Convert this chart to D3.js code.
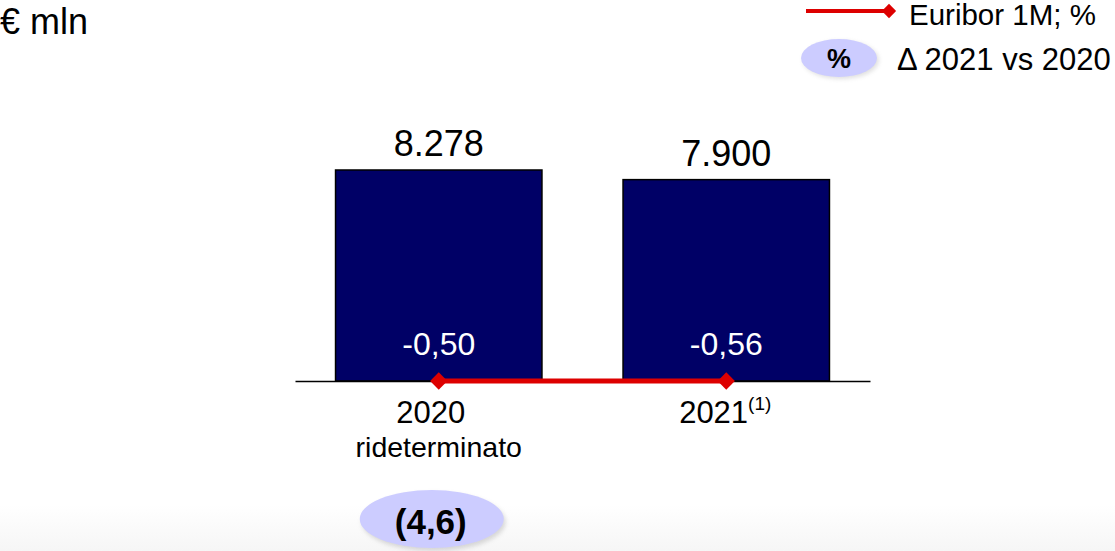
<!DOCTYPE html>
<html>
<head>
<meta charset="utf-8">
<script src="https://cdn.jsdelivr.net/npm/d3@7"></script>
<style>
  html, body { margin: 0; padding: 0; background: #fff; overflow: hidden; }
  svg { display: block; font-family: "Liberation Sans", Arial, sans-serif; }
</style>
</head>
<body>
<svg id="chart" width="1115" height="551"></svg>
<script>
// ---- data ----
const categories = ["2020", "2021"];
const categorySubLabels = ["rideterminato", ""];
const categoryFootnotes = ["", "(1)"];
const revenues = [8278, 7900];          // € mln
const euribor1M = [-0.50, -0.56];       // %
const deltaPct = -4.6;                  // Δ 2021 vs 2020, %
const unitLabel = "€ mln";
const legendLine = "Euribor 1M; %";
const legendBubble = "Δ 2021 vs 2020";

// ---- setup ----
const W = 1115, H = 551;
const svg = d3.select("#chart");
const it = d3.formatLocale({decimal: ",", thousands: ".", grouping: [3], currency: ["€", ""], minus: "-"});
const fmtInt = it.format(",d");
const fmtDec = it.format(".2f");
const fmtDelta = v => "(" + it.format(".1f")(Math.abs(v)) + ")";

const baseY = 381;
const x = d3.scaleBand().domain(categories).range([295, 870])
  .paddingInner(0.282).paddingOuter(0.141);
const y = d3.scaleLinear().domain([0, 10000]).range([baseY, baseY - 254.9]);

const defs = svg.append("defs");
const grad = defs.append("linearGradient").attr("id", "bottomFade")
  .attr("x1", 0).attr("y1", 0).attr("x2", 0).attr("y2", 1);
grad.append("stop").attr("offset", 0).attr("stop-color", "#ffffff");
grad.append("stop").attr("offset", 1).attr("stop-color", "#f6f6f6");
const blur = defs.append("filter").attr("id", "soft").attr("x", "-20%").attr("y", "-20%").attr("width", "140%").attr("height", "140%");
blur.append("feGaussianBlur").attr("stdDeviation", 2);

svg.append("rect").attr("x", 0).attr("y", 505).attr("width", W).attr("height", H - 505)
  .attr("fill", "url(#bottomFade)");

// unit label
svg.append("text").attr("x", 0).attr("y", 34).attr("font-size", 36).attr("fill", "#000")
  .text(unitLabel);

// bars
const rows = categories.map((c, i) => ({c, v: revenues[i], e: euribor1M[i], sub: categorySubLabels[i], fn: categoryFootnotes[i]}));

svg.selectAll("rect.bar").data(rows).join("rect").attr("class", "bar")
  .attr("x", d => x(d.c)).attr("width", x.bandwidth())
  .attr("y", d => y(d.v)).attr("height", d => y(0) - y(d.v))
  .attr("fill", "#000066").attr("stroke", "#000").attr("stroke-width", 1.5);

// value labels
svg.selectAll("text.val").data(rows).join("text").attr("class", "val")
  .attr("x", d => x(d.c) + x.bandwidth() / 2).attr("y", d => y(d.v) - 14)
  .attr("text-anchor", "middle").attr("font-size", 36).attr("fill", "#000")
  .text(d => fmtInt(d.v));

// euribor labels inside bars
svg.selectAll("text.eur").data(rows).join("text").attr("class", "eur")
  .attr("x", d => x(d.c) + x.bandwidth() / 2).attr("y", 355)
  .attr("text-anchor", "middle").attr("font-size", 32).attr("fill", "#fff")
  .text(d => fmtDec(d.e));

// axis line
const xAxis = d3.axisBottom(x).tickSize(0).tickFormat("");
const ax = svg.append("g").attr("transform", `translate(0,${baseY})`).call(xAxis);
ax.select(".domain").attr("stroke", "#000").attr("stroke-width", 1.5);

// euribor line (drawn at baseline)
const line = d3.line().x(d => x(d.c) + x.bandwidth() / 2).y(() => baseY);
svg.append("path").datum(rows).attr("d", line)
  .attr("fill", "none").attr("stroke", "#dd0000").attr("stroke-width", 5);
const diamond = d3.symbol().type(d3.symbolDiamond2).size(190);
svg.selectAll("path.pt").data(rows).join("path").attr("class", "pt")
  .attr("transform", d => `translate(${x(d.c) + x.bandwidth() / 2},${baseY})`)
  .attr("d", diamond).attr("fill", "#dd0000");

// category labels
const cl = svg.selectAll("text.cat").data(rows).join("text").attr("class", "cat")
  .attr("x", d => x(d.c) + x.bandwidth() / 2 + (d.fn ? -1 : -8)).attr("y", 423)
  .attr("text-anchor", "middle").attr("font-size", 31).attr("fill", "#000");
cl.append("tspan").text(d => d.c);
cl.append("tspan").attr("font-size", 19).attr("dy", -13).text(d => d.fn);
svg.selectAll("text.sub").data(rows.filter(d => d.sub)).join("text").attr("class", "sub")
  .attr("x", d => x(d.c) + x.bandwidth() / 2).attr("y", 457)
  .attr("text-anchor", "middle").attr("font-size", 28.5).attr("fill", "#000")
  .text(d => d.sub);

// delta bubble
const bx = x(categories[0]) + x.bandwidth() / 2 - 7, by = 519;
svg.append("ellipse").attr("cx", bx + 2).attr("cy", by + 3).attr("rx", 72).attr("ry", 29)
  .attr("fill", "#999").attr("opacity", 0.35).attr("filter", "url(#soft)");
svg.append("ellipse").attr("cx", bx).attr("cy", by).attr("rx", 72).attr("ry", 29)
  .attr("fill", "#ccccff");
svg.append("text").attr("x", bx - 1).attr("y", 534).attr("text-anchor", "middle")
  .attr("font-size", 35).attr("font-weight", "bold").attr("fill", "#000")
  .text(fmtDelta(deltaPct));

// legend
const lg = svg.append("g");
lg.append("line").attr("x1", 806).attr("x2", 889).attr("y1", 11).attr("y2", 11)
  .attr("stroke", "#dd0000").attr("stroke-width", 4);
lg.append("path").attr("transform", "translate(889,11)")
  .attr("d", d3.symbol().type(d3.symbolDiamond2).size(130)).attr("fill", "#dd0000");
lg.append("text").attr("x", 909).attr("y", 25).attr("font-size", 29.5).attr("fill", "#000").text(legendLine);
lg.append("ellipse").attr("cx", 841).attr("cy", 60).attr("rx", 38).attr("ry", 19)
  .attr("fill", "#999").attr("opacity", 0.3).attr("filter", "url(#soft)");
lg.append("ellipse").attr("cx", 839).attr("cy", 58).attr("rx", 38).attr("ry", 19)
  .attr("fill", "#ccccff");
lg.append("text").attr("x", 839).attr("y", 68).attr("text-anchor", "middle")
  .attr("font-size", 27).attr("font-weight", "bold").attr("fill", "#000").text("%");
lg.append("text").attr("x", 897).attr("y", 70).attr("font-size", 31).attr("fill", "#000").text(legendBubble);
</script>
</body>
</html>
